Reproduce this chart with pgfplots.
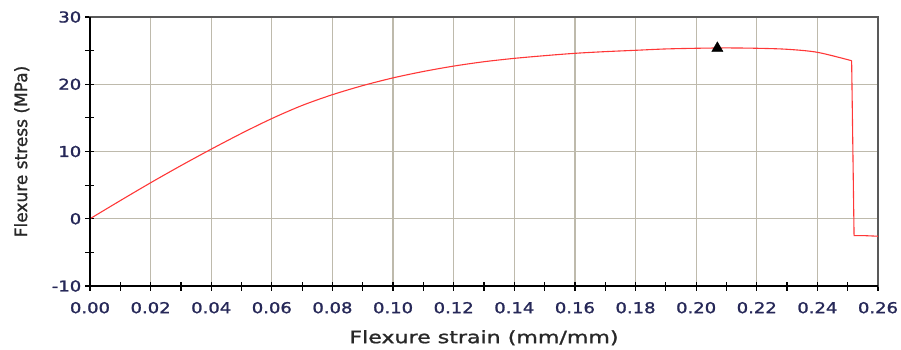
\documentclass[border=0pt]{standalone}
\usepackage{pgfplots}
\pgfplotsset{compat=1.18}
\usepackage{fontspec}
\setmainfont{DejaVu Sans}
\newfontfamily\heavyfont[FakeBold=1.2]{DejaVu Sans}
\definecolor{gridcol}{RGB}{190,186,172}
\definecolor{ticklab}{RGB}{38,40,88}
\definecolor{curve}{RGB}{255,55,55}
\definecolor{labcol}{RGB}{40,40,40}
\begin{document}
\begin{tikzpicture}[x=1pt,y=1pt]
\useasboundingbox (-90,-64) rectangle (811,286);
\begin{axis}[
  scale only axis,
  width=788pt, height=269pt,
  xmin=0, xmax=0.26, ymin=-10, ymax=30,
  xtick={0,0.02,...,0.26},
  ytick={-10,0,10,20,30},
  minor x tick num=1, minor y tick num=1,
  xticklabel style={yshift=-8pt, /pgf/number format/.cd, fixed, fixed zerofill, precision=2},
  /pgf/number format/assume math mode=true,
  ticklabel style={font=\heavyfont\fontsize{15}{17}\selectfont, text=ticklab, xscale=1.2},
  scaled x ticks=false,
  tick align=center,
  major tick length=9pt, minor tick length=9pt,
  tick style={black, line width=1.2pt},
  grid=major,
  major grid style={gridcol, line width=1.3pt},
  axis line style={black!65, line width=1.2pt},
  xtick pos=bottom, ytick pos=left,
  xlabel={Flexure strain (mm/mm)},
  ylabel={Flexure stress (MPa)},
  label style={font=\heavyfont\fontsize{17}{20}\selectfont, text=labcol},
  xlabel style={xscale=1.3, yshift=-10pt},
  ylabel style={yshift=15pt},
  clip=false,
]
% loading branch up to the peak and first failure
\addplot[curve, line width=1.1pt, smooth, tension=0.5] coordinates {
  (0,0) (0.01,2.7) (0.02,5.35) (0.03,7.9) (0.04,10.35) (0.05,12.7) (0.06,14.9)
  (0.07,16.85) (0.08,18.45) (0.09,19.8) (0.10,20.95) (0.11,21.9) (0.12,22.7)
  (0.13,23.35) (0.14,23.85) (0.15,24.25) (0.16,24.6) (0.17,24.85) (0.18,25.05)
  (0.19,25.25) (0.20,25.35) (0.21,25.4) (0.22,25.35) (0.23,25.2)
  (0.24,24.75) (0.2513,23.5)
};
% sudden drop after fracture
\addplot[curve, line width=1.1pt] coordinates {
  (0.2513,23.5) (0.2521,-2.5) (0.255,-2.5) (0.26,-2.6)
};
\addplot[only marks, mark=triangle*, mark size=6.5pt, black] coordinates {(0.207,25.35)};
\draw[black, line width=1.8pt] (rel axis cs:0,1) -- (rel axis cs:0,0) -- (rel axis cs:1,0);
\end{axis}
\end{tikzpicture}
\end{document}
